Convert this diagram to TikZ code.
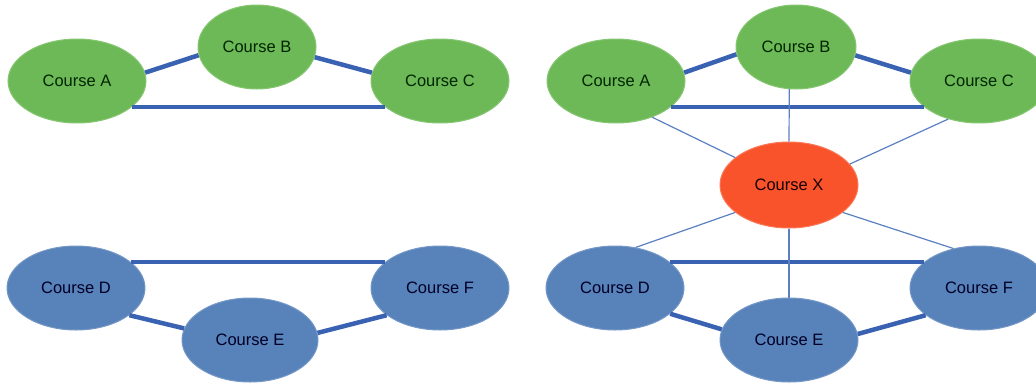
\documentclass[tikz,border=0pt]{standalone}
\usepackage{fontspec}
\setmainfont{Liberation Sans}
\usetikzlibrary{shapes.geometric}
\definecolor{cgreen}{HTML}{6EB957}
\definecolor{cgreenb}{HTML}{86C672}
\definecolor{cblue}{HTML}{5882BA}
\definecolor{cblueb}{HTML}{7598C6}
\definecolor{cred}{HTML}{F8532B}
\definecolor{credb}{HTML}{FA7757}
\definecolor{cline}{HTML}{3A62B2}
\definecolor{cthin}{HTML}{5A80C2}
\tikzset{
  course/.style={ellipse, inner sep=0pt, line width=1pt, minimum height=84pt,
    font=\fontsize{16.5}{20}\selectfont},
  gnode/.style={course, fill=cgreen, draw=cgreenb, text=black!85!green},
  bnode/.style={course, fill=cblue, draw=cblueb, text=black!85!blue},
  rnode/.style={course, fill=cred, draw=credb, text=black!90!red},
  thick edge/.style={draw=cline, line width=4.5pt},
  thin edge/.style={draw=cthin, line width=1.2pt},
}
\begin{document}
\begin{tikzpicture}[x=1pt,y=-1pt]
\useasboundingbox (0,0) rectangle (1036,386);
\clip (0,0) rectangle (1036,386);
% left top
\node[gnode, minimum width=138pt] (LA) at (77,81) {Course A};
\node[gnode, minimum width=118pt] (LB) at (257,47) {Course B};
\node[gnode, minimum width=138pt] (LC) at (440,81) {Course C};
\draw[thick edge] (LA.7) -- (LB.188);
\draw[thick edge] (LB.-10) -- (LC.173);
\draw[thick edge] (LA.-25) -- (LC.-155);
% left bottom
\node[bnode, minimum width=138pt] (LD) at (76,288) {Course D};
\node[bnode, minimum width=136pt] (LE) at (250,340) {Course E};
\node[bnode, minimum width=138pt] (LF) at (440,288) {Course F};
\draw[thick edge] (LD.25) -- (LF.155);
\draw[thick edge] (LD.-27) -- (LE.170);
\draw[thick edge] (LE.6) -- (LF.207);
% right
\node[gnode, minimum width=138pt] (RA) at (616,81) {Course A};
\node[gnode, minimum width=120pt] (RB) at (796,47) {Course B};
\node[gnode, minimum width=138pt] (RC) at (979,81) {Course C};
\node[rnode, minimum width=138pt, minimum height=86pt] (RX) at (789,185) {Course X};
\node[bnode, minimum width=138pt] (RD) at (615,288) {Course D};
\node[bnode, minimum width=138pt] (RE) at (789,340) {Course E};
\node[bnode, minimum width=138pt] (RF) at (979,288) {Course F};
\draw[thick edge] (RA.7) -- (RB.187);
\draw[thick edge] (RB.-8) -- (RC.173);
\draw[thick edge] (RA.-25) -- (RC.-155);
\draw[thick edge] (RD.25) -- (RF.155);
\draw[thick edge] (RD.-25) -- (RE.171);
\draw[thick edge] (RE.5) -- (RF.207);
\draw[thin edge] (RA.-45) -- (RX.153);
\draw[thin edge] (RB.-99.5) -- (RX.north);
\draw[thin edge] (RC.-129) -- (RX.19);
\draw[thin edge] (RX.207) -- (RD.63);
\draw[thin edge] (RX.south) -- (RE.north);
\draw[thin edge] (RX.-27) -- (RF.123);
\end{tikzpicture}
\end{document}
